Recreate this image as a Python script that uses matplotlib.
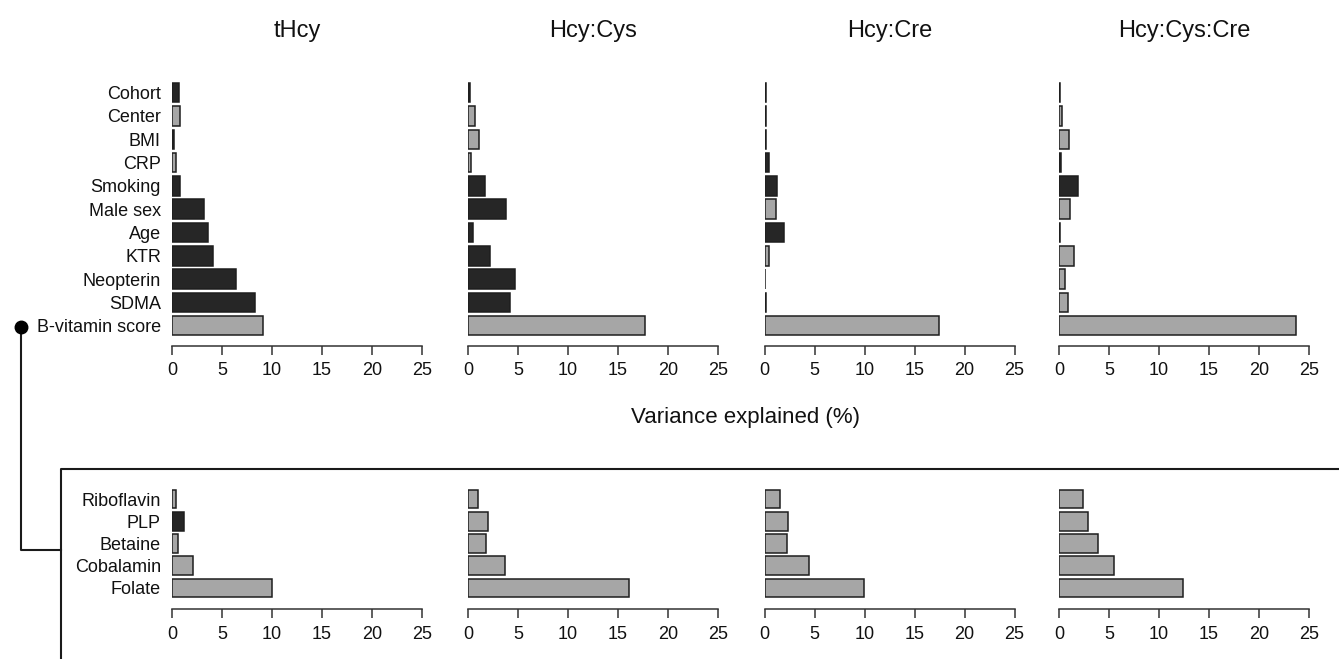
import numpy as np
import matplotlib
matplotlib.use("Agg")
import matplotlib.pyplot as plt
from matplotlib.lines import Line2D

plt.rcParams["font.family"] = ["Liberation Sans", "DejaVu Sans"]

# ==================================================
# Data (variance explained, %)
# ==================================================
outcomes = ["tHcy", "Hcy:Cys", "Hcy:Cre", "Hcy:Cys:Cre"]

top_labels = ["Cohort", "Center", "BMI", "CRP", "Smoking", "Male sex",
              "Age", "KTR", "Neopterin", "SDMA", "B-vitamin score"]
top_thcy = [0.7, 0.8, 0.2, 0.4, 0.8, 3.2, 3.6, 4.1, 6.4, 8.3, 9.1]
top_hcy_cys = [0.2, 0.7, 1.1, 0.3, 1.7, 3.8, 0.5, 2.2, 4.7, 4.2, 17.7]
top_hcy_cre = [0.1, 0.1, 0.15, 0.4, 1.2, 1.1, 1.9, 0.4, 0.05, 0.1, 17.4]
top_hcy_cys_cre = [0.1, 0.3, 1.0, 0.15, 1.9, 1.1, 0.1, 1.5, 0.6, 0.9, 23.7]
# 1 = dark bar, 0 = grey bar
top_dark_thcy = [1, 0, 1, 0, 1, 1, 1, 1, 1, 1, 0]
top_dark_hcy_cys = [1, 0, 0, 0, 1, 1, 1, 1, 1, 1, 0]
top_dark_hcy_cre = [1, 1, 1, 1, 1, 0, 1, 0, 1, 1, 0]
top_dark_hcy_cys_cre = [1, 0, 0, 1, 1, 0, 1, 0, 0, 0, 0]

bot_labels = ["Riboflavin", "PLP", "Betaine", "Cobalamin", "Folate"]
bot_thcy = [0.35, 1.15, 0.6, 2.1, 10.0]
bot_hcy_cys = [1.0, 1.95, 1.8, 3.7, 16.1]
bot_hcy_cre = [1.5, 2.3, 2.2, 4.4, 9.9]
bot_hcy_cys_cre = [2.4, 2.9, 3.85, 5.5, 12.4]
bot_dark_thcy = [0, 1, 0, 0, 0]
bot_dark_hcy_cys = [0, 0, 0, 0, 0]
bot_dark_hcy_cre = [0, 0, 0, 0, 0]
bot_dark_hcy_cys_cre = [0, 0, 0, 0, 0]

top_vals = [top_thcy, top_hcy_cys, top_hcy_cre, top_hcy_cys_cre]
top_dark = [top_dark_thcy, top_dark_hcy_cys, top_dark_hcy_cre, top_dark_hcy_cys_cre]
bot_vals = [bot_thcy, bot_hcy_cys, bot_hcy_cre, bot_hcy_cys_cre]
bot_dark = [bot_dark_thcy, bot_dark_hcy_cys, bot_dark_hcy_cre, bot_dark_hcy_cys_cre]

xticks = [0, 5, 10, 15, 20, 25]

# ==================================================
# Layout (pixel geometry of a 1339 x 659 canvas)
# ==================================================
W, H = 1339, 659
DARK = "#262626"
GREY = "#a6a6a6"
EDGE = "#1e1e1e"

fig = plt.figure(figsize=(W / 100, H / 100), dpi=100)

panel_left = [172, 468, 764.5, 1059]
panel_w = 250


def px_rect(x0, y_top, w, h):
    return [x0 / W, 1 - (y_top + h) / H, w / W, h / H]


def draw_panel(ax, vals, dark, labels, show_labels, spine_off, label_pad):
    n = len(vals)
    ypos = np.arange(n)[::-1]
    colors = [DARK if d else GREY for d in dark]
    ax.barh(ypos, vals, height=0.84, color=colors, edgecolor=EDGE,
            linewidth=1.1, align="center")
    ax.set_xlim(0, 25)
    ax.set_ylim(-0.5, n - 0.5)
    for s in ["top", "right", "left"]:
        ax.spines[s].set_visible(False)
    ax.spines["bottom"].set_position(("outward", spine_off))
    ax.spines["bottom"].set_bounds(0, 25)
    ax.spines["bottom"].set_color("#333333")
    ax.spines["bottom"].set_linewidth(1.1)
    ax.set_xticks(xticks)
    ax.tick_params(axis="x", length=6.5, width=1.1, color="#333333",
                   labelsize=13, pad=label_pad, labelcolor="#111111")
    ax.set_yticks(ypos)
    if show_labels:
        ax.set_yticklabels(labels, fontsize=13, color="#111111")
        ax.tick_params(axis="y", length=0, pad=8)
    else:
        ax.tick_params(axis="y", length=0, labelleft=False)
    ax.patch.set_alpha(0)


# top row: 11 rows, 23.3 px apart, first centre at y=92.7
top_rect_top = 92.7 - 23.3 / 2
top_rect_h = 23.3 * 11
# bottom row: 5 rows, 22.25 px apart, first centre at y=499
bot_rect_top = 499 - 22.25 / 2
bot_rect_h = 22.25 * 5

for i in range(4):
    ax = fig.add_axes(px_rect(panel_left[i], top_rect_top, panel_w, top_rect_h))
    draw_panel(ax, top_vals[i], top_dark[i], top_labels, i == 0, 6, 5.5)
    fig.text((panel_left[i] + panel_w / 2) / W, 1 - 37 / H, outcomes[i],
             ha="center", va="baseline", fontsize=17, color="#111111")

    axb = fig.add_axes(px_rect(panel_left[i], bot_rect_top, panel_w, bot_rect_h))
    draw_panel(axb, bot_vals[i], bot_dark[i], bot_labels, i == 0, 7, 5.5)

fig.text(745 / W, 1 - 423 / H, "Variance explained (%)", ha="center",
         va="baseline", fontsize=16, color="#111111")

# --------------------------------------------------
# Bracket linking the B-vitamin score to the bottom block
# --------------------------------------------------
def fx(x):
    return x / W


def fy(y):
    return 1 - y / H


line_kw = dict(color="#1a1a1a", linewidth=1.5, transform=fig.transFigure)
fig.add_artist(Line2D([fx(21), fx(21), fx(61)], [fy(326.5), fy(550), fy(550)],
                      **line_kw))
fig.add_artist(Line2D([fx(21)], [fy(326.5)], marker="o", markersize=9,
                      color="#000000", transform=fig.transFigure))
fig.add_artist(Line2D([fx(61), fx(61), fx(W)], [fy(H), fy(469), fy(469)],
                      **line_kw))

fig.savefig("out.png", dpi=100)
